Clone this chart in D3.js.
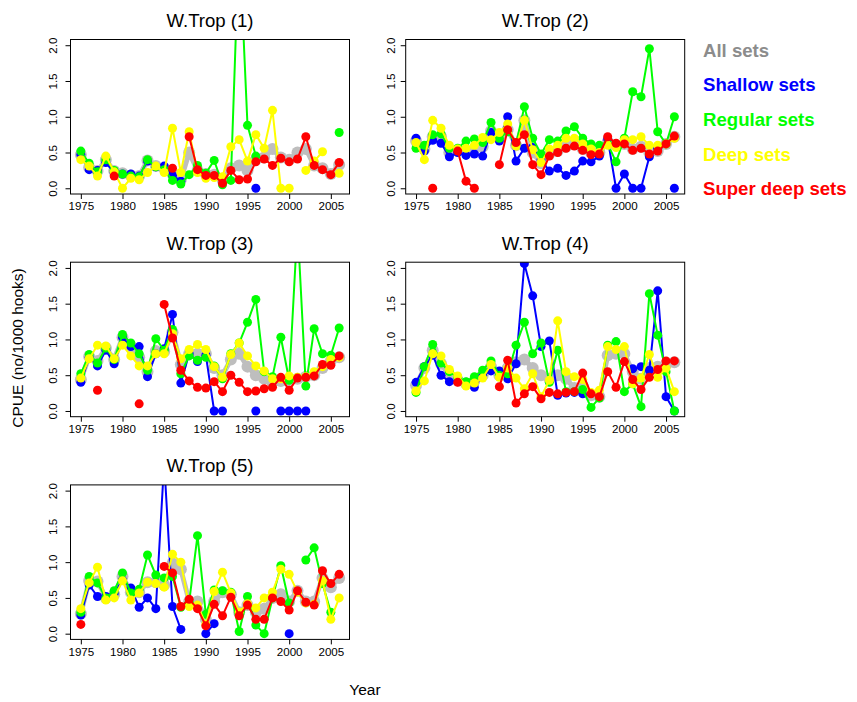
<!DOCTYPE html>
<html>
<head>
<meta charset="utf-8">
<script src="https://cdn.jsdelivr.net/npm/d3@7"></script>
<style>
  body { margin: 0; background: #fff; }
  svg { display: block; font-family: "Liberation Sans", Arial, sans-serif; }
</style>
</head>
<body>
<svg id="chart" width="857" height="702"></svg>
<script>
const _ = null;
const years = [1975,1976,1977,1978,1979,1980,1981,1982,1983,1984,1985,1986,1987,1988,1989,1990,
               1991,1992,1993,1994,1995,1996,1997,1998,1999,2000,2001,2002,2003,2004,2005,2006];
const xTicks = [1975,1980,1985,1990,1995,2000,2005];
const yTicks = [0, 0.5, 1, 1.5, 2];
const panelTitles = ["W.Trop (1)","W.Trop (2)","W.Trop (3)","W.Trop (4)","W.Trop (5)"];
const seriesNames = ["All sets","Shallow sets","Regular sets","Deep sets","Super deep sets"];

// W.Trop (1)
const wt1_all = [0.47,0.29,0.24,0.40,0.24,0.21,0.18,0.17,0.39,0.31, 0.28,0.20,0.12,0.50,0.25,0.20,0.19,0.12,0.28,0.32, 0.25,0.40,0.43,0.55,0.43,0.40,0.50,0.55,0.32,0.28, 0.20,0.33];
const wt1_shallow = [0.47,0.26,0.25,0.36,0.22,0.20,0.20,0.17,0.38,0.30, 0.31,0.18,0.10,_,_,_,_,_,_,_, _,0.00,_,_,_,_,_,_,_,_, _,_];
const wt1_regular = [0.52,0.35,0.23,0.40,0.25,0.20,0.17,0.16,0.40,0.30, 0.26,0.11,0.06,0.19,0.32,0.21,0.39,0.05,0.11,3.5, 0.88,0.45,_,_,_,_,_,_,_,_, _,0.78];
const wt1_deep = [0.40,0.31,0.17,0.45,0.23,0.00,0.14,0.12,0.22,0.31, 0.22,0.84,0.22,0.79,0.22,0.14,0.15,0.16,0.58,0.68, 0.38,0.75,0.56,1.09,0.00,0.00,_,0.25,0.38,0.51, _,0.21];
const wt1_superdeep = [_,_,_,_,0.17,_,_,_,_,_, _,0.28,_,0.72,0.26,0.18,0.18,0.07,0.25,0.12, 0.13,0.37,0.41,0.32,0.42,0.37,0.41,0.72,0.32,0.26, 0.19,0.36];

// W.Trop (2)
const wt2_all = [0.66,0.55,0.72,0.72,0.50,0.52,0.52,0.55,0.58,0.80, 0.72,0.82,0.60,0.95,0.50,0.35,0.48,0.52,0.58,0.62, 0.55,0.50,0.50,0.65,0.60,0.62,0.55,0.58,0.50,0.52, 0.62,0.72];
const wt2_shallow = [0.70,0.52,0.67,0.63,0.44,0.50,0.46,0.48,0.45,0.78, 0.66,1.00,0.38,0.56,0.57,0.40,0.24,0.28,0.18,0.24, 0.38,0.37,0.45,0.69,0.00,0.20,0.00,0.00,0.44,0.56, _,0.00];
const wt2_regular = [0.56,0.60,0.75,0.76,0.56,0.56,0.66,0.69,0.64,0.92, 0.70,0.79,0.62,1.14,0.70,0.48,0.68,0.66,0.80,0.86, 0.70,0.62,0.60,0.62,0.37,0.70,1.35,1.28,1.95,0.79, 0.62,1.00];
const wt2_deep = [0.64,0.40,0.95,0.84,0.60,0.55,0.56,0.60,0.71,0.68, 0.78,0.90,0.59,0.95,0.54,0.36,0.55,0.60,0.70,0.70, 0.62,0.55,0.50,0.60,0.57,0.68,0.68,0.72,0.60,0.60, 0.62,0.70];
const wt2_superdeep = [_,_,0.00,_,_,0.52,0.10,0.00,_,_, 0.33,0.82,0.64,0.75,0.33,0.19,0.45,0.50,0.56,0.59, 0.53,0.47,0.48,0.72,0.63,0.62,0.53,0.56,0.48,0.52, 0.62,0.73];

// W.Trop (3)
const wt3_all = [0.44,0.76,0.70,0.88,0.72,1.03,0.90,0.75,0.55,0.84, 0.83,1.10,0.65,0.80,0.80,0.80,0.60,0.50,0.72,0.80, 0.62,0.50,0.45,0.40,0.42,0.42,0.45,0.48,0.50,0.60, 0.70,0.75];
const wt3_shallow = [0.40,0.75,0.63,0.85,0.66,1.03,0.90,0.90,0.48,0.80, 0.87,1.35,0.39,0.80,0.69,0.78,0.00,0.00,_,_, _,0.00,_,_,0.00,0.00,0.00,0.00,_,_, _,_];
const wt3_regular = [0.52,0.79,0.67,0.88,0.72,1.07,0.95,0.80,0.57,1.01, 0.85,1.14,0.52,0.77,0.71,0.75,0.63,0.45,0.80,0.95, 1.24,1.56,0.55,0.48,1.03,0.43,2.6,0.35,1.15,0.80, 0.78,1.16];
const wt3_deep = [0.46,0.73,0.92,0.91,0.73,0.92,0.77,0.63,0.63,0.80, 0.80,1.08,0.73,0.86,0.93,0.86,0.62,0.47,0.79,0.95, 0.77,0.63,0.56,0.45,0.45,0.49,0.47,0.48,0.55,0.62, 0.72,0.75];
const wt3_superdeep = [_,_,0.29,_,_,_,_,0.10,_,_, 1.49,1.02,0.57,0.42,0.33,0.32,0.41,0.27,0.50,0.40, 0.27,0.28,0.31,0.33,0.47,0.29,0.46,0.47,0.49,0.65, 0.64,0.77];

// W.Trop (4)
const wt4_all = [0.36,0.60,0.85,0.66,0.50,0.43,0.38,0.42,0.50,0.62, 0.50,0.60,0.68,0.72,0.60,0.50,0.45,0.50,0.45,0.32, 0.35,0.22,0.20,0.78,0.80,0.80,0.55,0.45,0.60,0.62, 0.65,0.68];
const wt4_shallow = [0.40,0.62,0.78,0.50,0.41,0.41,0.40,0.33,0.50,0.56, 0.56,0.45,0.66,2.06,1.61,0.90,0.98,0.22,0.25,0.26, 0.24,_,_,_,_,_,0.59,0.62,0.57,1.68, 0.20,0.00];
const wt4_regular = [0.26,0.62,0.93,0.67,0.55,0.47,0.41,0.48,0.57,0.70, 0.50,0.52,0.92,1.24,0.80,0.95,0.40,0.85,0.27,0.27, 0.30,0.05,0.18,0.92,0.97,0.27,0.38,0.06,1.64,1.06, 0.55,0.00];
const wt4_deep = [0.28,0.42,0.80,0.77,0.58,0.49,0.35,0.39,0.46,0.65, 0.47,0.60,0.46,0.31,0.52,0.20,0.43,1.26,0.55,0.48, 0.44,0.26,0.29,0.90,0.86,0.90,0.38,0.46,0.79,0.47, 0.60,0.27];
const wt4_superdeep = [_,_,_,_,_,0.40,_,_,_,_, 0.34,0.71,0.11,0.24,0.34,0.17,0.26,0.24,0.26,0.27, 0.53,0.24,0.20,0.55,0.33,0.69,0.44,0.30,0.47,0.58, 0.70,0.70];

// W.Trop (5)
const wt5_all = [0.28,0.74,0.73,0.50,0.55,0.80,0.58,0.58,0.72,0.72, 0.68,0.98,0.90,0.45,0.45,0.20,0.45,0.58,0.55,0.30, 0.40,0.30,0.35,0.50,0.55,0.45,0.60,0.45,0.45,0.78, 0.65,0.78];
const wt5_shallow = [0.26,0.68,0.52,0.52,0.56,0.75,0.64,0.37,0.50,0.35, 2.4,0.38,0.06,_,_,0.00,0.14,_,_,_, _,_,_,_,_,0.00,_,_,_,_, _,_];
const wt5_regular = [0.30,0.80,0.71,0.50,0.60,0.85,0.57,0.62,1.10,0.82, 0.78,0.80,0.37,0.44,1.37,0.27,0.61,0.60,0.58,0.03, 0.52,0.12,0.00,0.50,0.95,0.43,_,1.03,1.20,0.70, 0.30,_];
const wt5_deep = [0.35,0.71,0.93,0.47,0.50,0.74,0.47,0.57,0.72,0.70, 0.65,1.11,1.00,0.38,0.40,0.13,0.59,0.86,0.57,0.30, 0.42,0.36,0.50,0.58,0.90,0.83,0.58,0.43,0.41,0.74, 0.20,0.50];
const wt5_superdeep = [0.13,_,_,_,_,_,_,_,_,_, 0.94,0.85,0.38,0.48,0.35,0.11,0.41,0.25,0.51,0.25, 0.40,0.20,0.20,0.50,0.45,0.33,0.60,0.44,0.40,0.88, 0.70,0.83];

const panels = [
  [wt1_all, wt1_shallow, wt1_regular, wt1_deep, wt1_superdeep],
  [wt2_all, wt2_shallow, wt2_regular, wt2_deep, wt2_superdeep],
  [wt3_all, wt3_shallow, wt3_regular, wt3_deep, wt3_superdeep],
  [wt4_all, wt4_shallow, wt4_regular, wt4_deep, wt4_superdeep],
  [wt5_all, wt5_shallow, wt5_regular, wt5_deep, wt5_superdeep]
];

// styles
const lineColors = ["#bebebe", "#0000ff", "#00ff00", "#ffff00", "#ff0000"];
const textColors = ["#8c8c8c", "#0000ff", "#00ff00", "#ffff00", "#ff0000"];
const lineWidths = [5, 2, 2, 2, 2];
const pointRadius = [6, 4.5, 4.5, 4.5, 4.5];

// layout (pixels)
const plotW = 279, plotH = 154.5;
const colX = [70.5, 405.7];
const rowY = [39.5, 262.2, 484.9];
const yLabOff = [14, 11];

const svg = d3.select("#chart");

panels.forEach(function(series, p) {
  var col = p % 2, row = Math.floor(p / 2);
  var x0 = colX[col], y0 = rowY[row];

  var x = d3.scaleLinear()
      .domain([1975 - 31 * 0.04, 2006 + 31 * 0.04])
      .range([x0, x0 + plotW]);
  var y = d3.scaleLinear()
      .domain([-0.08, 2.08])
      .range([y0 + plotH, y0]);

  // clip to the plot box
  svg.append("clipPath").attr("id", "clip" + p)
    .append("rect")
      .attr("x", x0).attr("y", y0)
      .attr("width", plotW).attr("height", plotH);

  var g = svg.append("g").attr("clip-path", `url(#clip${p})`);

  series.forEach(function(vals, s) {
    var pts = years.map(function(yr, i) { return {yr: yr, v: vals[i]}; });
    var line = d3.line()
        .defined(function(d) { return d.v !== null; })
        .x(function(d) { return x(d.yr); })
        .y(function(d) { return y(d.v); });
    g.append("path")
      .attr("d", line(pts))
      .attr("fill", "none")
      .attr("stroke", lineColors[s])
      .attr("stroke-width", lineWidths[s])
      .attr("stroke-linejoin", "round");
    g.selectAll(null)
      .data(pts.filter(function(d) { return d.v !== null; }))
      .enter().append("circle")
        .attr("cx", function(d) { return x(d.yr); })
        .attr("cy", function(d) { return y(d.v); })
        .attr("r", pointRadius[s])
        .attr("fill", lineColors[s]);
  });

  // box
  svg.append("rect")
    .attr("x", x0).attr("y", y0)
    .attr("width", plotW).attr("height", plotH)
    .attr("fill", "none").attr("stroke", "#000").attr("stroke-width", 1);

  // x axis
  var xa = svg.append("g")
    .attr("transform", `translate(0,${y0 + plotH})`)
    .call(d3.axisBottom(x).tickValues(xTicks).tickFormat(d3.format("d")).tickSize(5).tickPadding(3));
  xa.select(".domain").remove();
  xa.selectAll("text").attr("font-size", "11.6px").attr("fill", "#000")
    .attr("font-family", "Liberation Sans, Arial, sans-serif");

  // y axis
  var ya = svg.append("g")
    .attr("transform", `translate(${x0},0)`)
    .call(d3.axisLeft(y).tickValues(yTicks).tickFormat(d3.format(".1f")).tickSize(5));
  ya.select(".domain").remove();
  ya.selectAll("text")
    .attr("x", null).attr("dy", null)
    .attr("text-anchor", "middle")
    .attr("transform", `translate(${-yLabOff[col]},0) rotate(-90)`)
    .attr("font-size", "11.6px").attr("fill", "#000")
    .attr("font-family", "Liberation Sans, Arial, sans-serif");

  // title
  svg.append("text")
    .attr("x", x0 + plotW / 2).attr("y", y0 - 12.5)
    .attr("text-anchor", "middle")
    .attr("font-size", "18.6px")
    .text(panelTitles[p]);
});

// legend as coloured words
seriesNames.forEach(function(name, s) {
  svg.append("text")
    .attr("x", 703).attr("y", 56.5 + s * 34.7)
    .attr("font-size", "18.6px")
    .attr("font-weight", "bold")
    .attr("fill", textColors[s])
    .text(name);
});

// outer labels
svg.append("text")
  .attr("transform", "translate(23,348) rotate(-90)")
  .attr("text-anchor", "middle")
  .attr("font-size", "15.5px")
  .text("CPUE (no/1000 hooks)");

svg.append("text")
  .attr("x", 365).attr("y", 695)
  .attr("text-anchor", "middle")
  .attr("font-size", "15.5px")
  .text("Year");
</script>
</body>
</html>
